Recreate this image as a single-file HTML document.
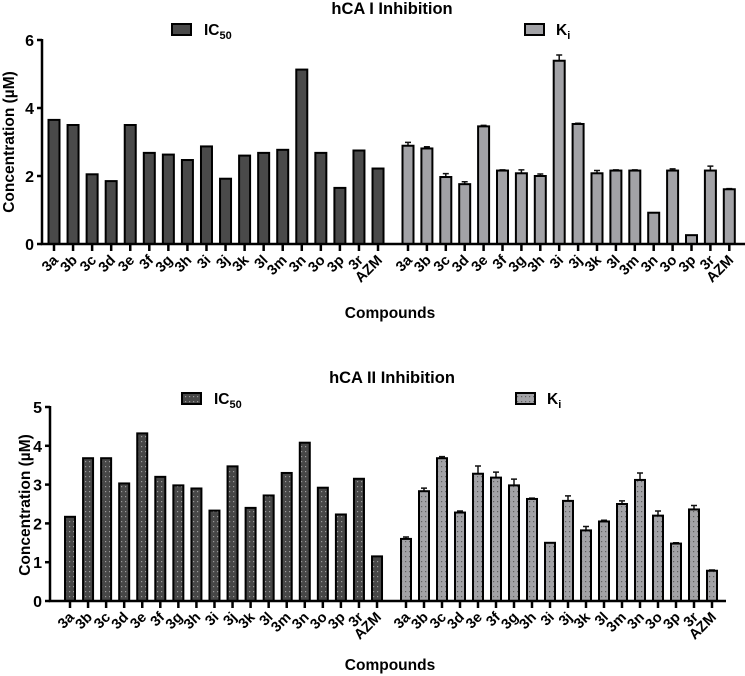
<!DOCTYPE html>
<html><head><meta charset="utf-8"><style>
html,body{margin:0;padding:0;background:#fff;}
svg{display:block;font-family:"Liberation Sans",Arial,sans-serif;font-weight:bold;}
</style></head><body>
<svg id="svg" width="745" height="676" viewBox="0 0 745 676">
<defs>
<pattern id="dotD" width="4" height="5" patternUnits="userSpaceOnUse"><rect width="4" height="5" fill="#474747"/><rect x="1" y="1" width="1.2" height="1.2" fill="#9a9a9a"/></pattern>
<pattern id="dotL" width="4" height="5" patternUnits="userSpaceOnUse"><rect width="4" height="5" fill="#a2a2a6"/><rect x="1" y="1" width="1.2" height="1.2" fill="#606060"/></pattern>
</defs>
</svg>
<script>
const categories=["3a","3b","3c","3d","3e","3f","3g","3h","3i","3j","3k","3l","3m","3n","3o","3p","3r","AZM"];
const hca1IC50=[3.65,3.5,2.05,1.85,3.5,2.68,2.63,2.47,2.87,1.92,2.6,2.68,2.77,5.13,2.68,1.65,2.75,2.22];
const hca1Ki=[2.89,2.81,1.97,1.76,3.46,2.16,2.08,2.0,5.39,3.53,2.08,2.16,2.16,0.92,2.16,0.26,2.16,1.61];
const hca1KiErr=[0.1,0.05,0.1,0.07,0.03,0.02,0.1,0.06,0.17,0.02,0.08,0.02,0.02,0,0.05,0,0.13,0.02];
const hca2IC50=[2.17,3.68,3.68,3.03,4.32,3.2,2.98,2.9,2.33,3.47,2.4,2.72,3.3,4.08,2.92,2.23,3.15,1.15];
const hca2Ki=[1.6,2.83,3.68,2.28,3.28,3.18,2.98,2.63,1.5,2.58,1.82,2.05,2.5,3.12,2.2,1.48,2.36,0.78];
const hca2KiErr=[0.05,0.08,0.04,0.04,0.2,0.14,0.16,0.02,0,0.13,0.1,0.03,0.08,0.18,0.12,0.02,0.1,0.02];
const ticks1=[0,2,4,6];
const ticks2=[0,1,2,3,4,5];

const svg=document.getElementById('svg');
const NS='http://www.w3.org/2000/svg';
function mk(tag,attrs,parent){const e=document.createElementNS(NS,tag);for(const k in attrs)e.setAttribute(k,attrs[k]);(parent||svg).appendChild(e);return e;}
function txt(s,attrs){const e=mk('text',attrs);e.textContent=s;return e;}

function panel(p){
  const g=mk('g',{});
  
  
  const y=v=>p.y0-(v/p.ymax)*(p.y0-p.ytop);
  const xL=i=>p.xL0+i*p.stepL;
  const xR=i=>p.xR0+i*p.stepR;
  function bars(vals,xf,fill,nm,err){
    vals.forEach((v,i)=>{
      const cx=xf(i);
      if(err&&err[i]>0){
        const eb=mk('path',{d:`M${cx} ${y(v)} V${y(v+err[i])} M${cx-3} ${y(v+err[i])} H${cx+3}`,stroke:'#111','stroke-width':1.5,fill:'none'},g);
        
        
      }
      const r=mk('rect',{x:cx-p.bw/2,y:y(v),width:p.bw,height:p.y0-y(v),fill:fill,stroke:'#000','stroke-width':2},g);
      
      
    });
  }
  bars(p.ic,xL,p.fillD,'ic50',null);
  bars(p.ki,xR,p.fillL,'ki',p.err);
  const ax=mk('path',{d:`M${p.ax} ${p.ytop-1} V${p.y0} H${p.axEnd}`,stroke:'#000','stroke-width':2.5,fill:'none'},g);
  
  
  p.ticks.forEach(t=>{
    mk('line',{x1:p.ax-5,x2:p.ax,y1:y(t),y2:y(t),stroke:'#000','stroke-width':2.5},g);
    const tl=txt(String(t),{x:p.ax-8,y:y(t)+6,'text-anchor':'end','font-size':16});
    
    
  });
  categories.forEach((c,i)=>{
    [xL(i),xR(i)].forEach(cx=>{
      mk('line',{x1:cx,x2:cx,y1:p.y0,y2:p.y0+7,stroke:'#000','stroke-width':2.5},g);
      const t=txt(c,{x:cx+5,y:p.y0+17,'text-anchor':'end','font-size':14.5,transform:`rotate(-45 ${cx+5} ${p.y0+17})`});
      
      
    });
  });
  const ti=txt(p.title,{x:p.tx,y:p.ty,'text-anchor':'middle','font-size':16.5});
  
  
  const xt=txt('Compounds',{x:390,y:p.cy,'text-anchor':'middle','font-size':15.5});
  
  
  const yt=txt('Concentration (µM)',{x:0,y:0,'text-anchor':'middle','font-size':15.5,transform:`translate(${p.ytx} ${p.yty}) rotate(-90)`});
  
  
  const l1=mk('rect',{x:p.lg1,y:p.ly-6,width:19,height:11,fill:p.fillD,stroke:'#000','stroke-width':2},g);
  
  
  const t1=mk('text',{x:p.lg1+32,y:p.ly+5,'font-size':15.5});
  t1.innerHTML='IC<tspan font-size="11" dy="4">50</tspan>';
  
  
  const l2=mk('rect',{x:p.lg2,y:p.ly-6,width:19,height:11,fill:p.fillL,stroke:'#000','stroke-width':2},g);
  
  
  const t2=mk('text',{x:p.lg2+31,y:p.ly+5,'font-size':15.5});
  t2.innerHTML='K<tspan font-size="11" dy="4">i</tspan>';
  
  
}

panel({name:'hca1-chart',ic:hca1IC50,ki:hca1Ki,err:hca1KiErr,ticks:ticks1,ymax:6,y0:244,ytop:40,
  ax:42,axEnd:745,xL0:54,stepL:19.06,xR0:408,stepR:18.9,bw:11,fillD:'#4a4a4a',fillL:'#a2a2a6',
  title:'hCA I Inhibition',tx:392,ty:14,cy:318,ytx:14,yty:142,lg1:172,lg2:525,ly:30});
panel({name:'hca2-chart',ic:hca2IC50,ki:hca2Ki,err:hca2KiErr,ticks:ticks2,ymax:5,y0:601,ytop:407,
  ax:50,axEnd:726,xL0:70,stepL:18.06,xR0:406,stepR:18,bw:10,fillD:'url(#dotD)',fillL:'url(#dotL)',
  title:'hCA II Inhibition',tx:392,ty:383,cy:670,ytx:30,yty:505,lg1:182,lg2:516,ly:399});
</script>
</body></html>
